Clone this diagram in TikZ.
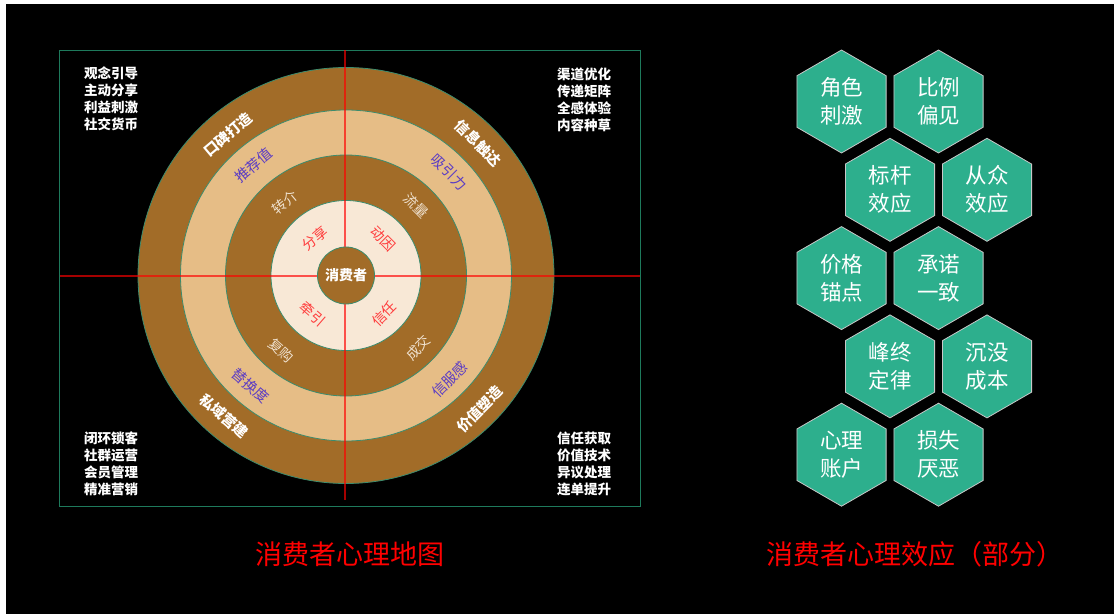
\documentclass[tikz,border=0pt]{standalone}
\usepackage{fontspec}
\setmainfont{Noto Sans CJK SC}
\usepackage{tikz}
\usetikzlibrary{shapes.geometric}
\definecolor{ringbrown}{HTML}{A26C28}
\definecolor{ringtan}{HTML}{E6BD86}
\definecolor{ringcream}{HTML}{F8E8D6}
\definecolor{ringline}{HTML}{3C8C6E}
\definecolor{frameline}{HTML}{1E7A5C}
\definecolor{hexfill}{HTML}{2DAF8D}
\definecolor{hexline}{HTML}{C8C8C8}
\definecolor{tanpurple}{HTML}{5B3CC4}
\definecolor{corered}{HTML}{FF3B3B}
\definecolor{innertext}{HTML}{F0E2D0}

\begin{document}
\begin{tikzpicture}[x=1pt,y=1pt,
  ring/.style={draw=ringline,line width=0.8pt},
  crossline/.style={draw=red,draw opacity=0.65,line width=1.5pt},
  corner/.style={text=white,align=center,font=\bfseries\fontsize{13.5}{17}\selectfont},
  outerlbl/.style={text=white,font=\bfseries\fontsize{14.5}{16}\selectfont},
  tanlbl/.style={text=tanpurple,font=\fontsize{14.5}{16}\selectfont},
  innerlbl/.style={text=innertext,font=\fontsize{14}{16}\selectfont},
  corelbl/.style={text=corered,font=\fontsize{14}{16}\selectfont},
  hexa/.style={regular polygon,regular polygon sides=6,shape border rotate=30,
    minimum size=103,inner sep=0pt,fill=hexfill,draw=hexline,line width=0.8pt,
    text=white,align=center,font=\fontsize{21.5}{28}\selectfont},
  title/.style={text=red,font=\fontsize{27}{30}\selectfont}]
\useasboundingbox (0,0) rectangle (1114,614);
\fill[white] (0,0) rectangle (1114,614);
\fill[black] (6,0) rectangle (1114,610);

% map frame
\draw[frameline,line width=1pt] (59.5,108) rectangle (640,563.5);

% rings
\coordinate (o) at (346,338.5);
\draw[ring,fill=ringbrown] (o) circle[radius=208];
\draw[ring,fill=ringtan] (o) circle[radius=165.5];
\draw[ring,fill=ringbrown] (o) circle[radius=120.5];
\draw[ring,fill=ringcream] (o) circle[radius=75];

% cross lines
\coordinate (hl) at (59.5,338);
\coordinate (hr) at (640,338);
\coordinate (vt) at (345,563.5);
\coordinate (vb) at (345,114);
\draw[crossline] (hl) -- (hr);
\draw[crossline] (vt) -- (vb);

\node[circle,ring,fill=ringbrown,minimum size=57,inner sep=0pt,text=white,
  font=\bfseries\fontsize{14}{16}\selectfont] (consumer) at (o) {消费者};

% outer ring
\node[outerlbl,rotate=40] (koubei) at ([shift={(130:184)}]o) {口碑打造};
\node[outerlbl,rotate=-45] (xinxi) at ([shift={(45:187)}]o) {信息触达};
\node[outerlbl,rotate=-41] (siyu) at ([shift={(229:186)}]o) {私域营建};
\node[outerlbl,rotate=45] (jiazhi) at ([shift={(315:189)}]o) {价值塑造};

% tan ring
\node[tanlbl,rotate=40] (tuijian) at ([shift={(130:144)}]o) {推荐值};
\node[tanlbl,rotate=-45] (xiyin) at ([shift={(45:146)}]o) {吸引力};
\node[tanlbl,rotate=-41] (tihuan) at ([shift={(229:146)}]o) {替换度};
\node[tanlbl,rotate=45] (xinfu) at ([shift={(315:147)}]o) {信服感};

% inner ring
\node[innerlbl,rotate=40] (zhuanjie) at ([shift={(130:95)}]o) {转介};
\node[innerlbl,rotate=-45] (liuliang) at ([shift={(45:99)}]o) {流量};
\node[innerlbl,rotate=-41] (fugou) at ([shift={(229:99)}]o) {复购};
\node[innerlbl,rotate=45] (chengjiao) at ([shift={(315:102)}]o) {成交};

% core ring
\node[corelbl,rotate=40] (fenxiang) at ([shift={(130:48)}]o) {分享};
\node[corelbl,rotate=-45] (dongyin) at ([shift={(45:52)}]o) {动因};
\node[corelbl,rotate=-41] (qianyin) at ([shift={(229:51)}]o) {牵引};
\node[corelbl,rotate=45] (xinren) at ([shift={(315:54)}]o) {信任};

% corners
\node[corner] (tl) at (111,515.5) {观念引导\\主动分享\\利益刺激\\社交货币};
\node[corner] (tr) at (584,514.5) {渠道优化\\传递矩阵\\全感体验\\内容种草};
\node[corner] (bl) at (111,150) {闭环锁客\\社群运营\\会员管理\\精准营销};
\node[corner] (br) at (584,150) {信任获取\\价值技术\\异议处理\\连单提升};

% effects
\node[hexa] (jiaose) at (841.5,512.5) {角色\\刺激};
\node[hexa] (bili) at (938.5,512.5) {比例\\偏见};
\node[hexa] (biaogan) at (890,424.2) {标杆\\效应};
\node[hexa] (congzhong) at (987,424.2) {从众\\效应};
\node[hexa] (jiage) at (841.5,335.9) {价格\\锚点};
\node[hexa] (chengnuo) at (938.5,335.9) {承诺\\一致};
\node[hexa] (fengzhong) at (890,247.6) {峰终\\定律};
\node[hexa] (chenmo) at (987,247.6) {沉没\\成本};
\node[hexa] (zhanghu) at (841.5,159.3) {心理\\账户};
\node[hexa] (sunshi) at (938.5,159.3) {损失\\厌恶};

% titles
\node[title] (maptitle) at (350,60) {消费者心理地图};
\node[title] (efftitle) at (915,60) {消费者心理效应（部分）};
\end{tikzpicture}
\end{document}
